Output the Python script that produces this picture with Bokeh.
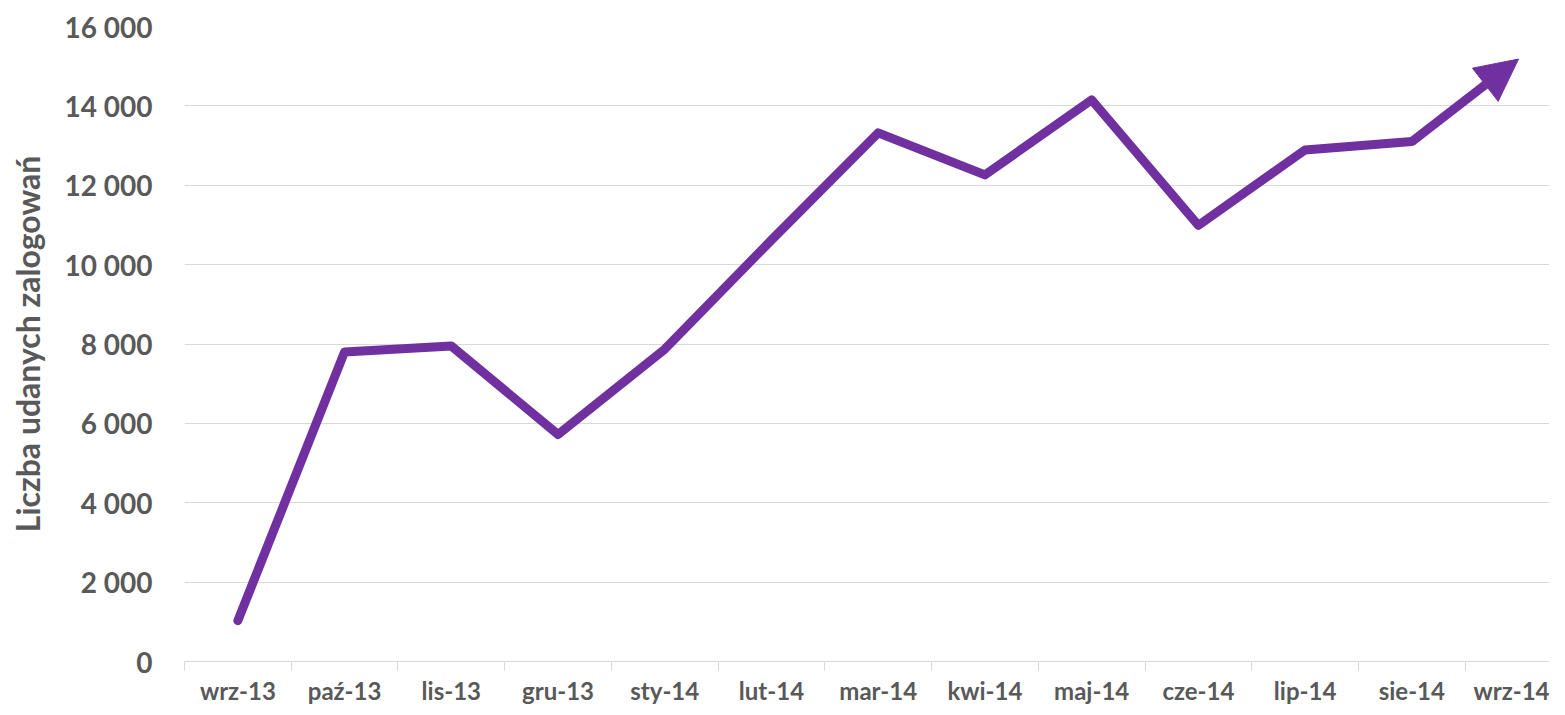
from bokeh.plotting import figure
from bokeh.models import Range1d, FixedTicker, Arrow, NormalHead
from bokeh.embed import file_html
from bokeh.resources import INLINE

months = ["wrz-13", "paź-13", "lis-13", "gru-13", "sty-14", "lut-14", "mar-14",
          "kwi-14", "maj-14", "cze-14", "lip-14", "sie-14", "wrz-14"]
logins = [1030, 7800, 7950, 5720, 7870, 10620, 13320, 12260, 14150, 10990, 12890, 13100, 15180]
y_ticks = [0, 2000, 4000, 6000, 8000, 10000, 12000, 14000, 16000]
y_tick_labels = ["0", "2 000", "4 000", "6 000", "8 000", "10 000", "12 000", "14 000", "16 000"]
y_title = "Liczba udanych zalogowań"

PURPLE = "#7030A0"
GREY = "#595959"
GRID = "#D9D9D9"
FONT = "Lato"

xs = list(range(len(months)))

p = figure(width=1549, height=707, output_backend="svg", toolbar_location=None,
           x_range=Range1d(-0.5, 12.29), y_range=Range1d(0, 16000),
           min_border_left=184, min_border_right=0, min_border_top=26, min_border_bottom=44)
p.outline_line_color = None
p.background_fill_color = "white"
p.border_fill_color = "white"

# line up to the second last point, final segment drawn as arrow
p.line(xs[:-1], logins[:-1], line_color=PURPLE, line_width=9,
       line_join="round", line_cap="round")
p.add_layout(Arrow(end=NormalHead(size=42, fill_color=PURPLE, line_color=PURPLE, line_width=1),
                   x_start=xs[-2], y_start=logins[-2], x_end=xs[-1], y_end=logins[-1],
                   line_color=PURPLE, line_width=9, line_cap="butt"))

# x axis
p.xaxis.ticker = FixedTicker(ticks=xs, minor_ticks=[i - 0.5 for i in range(len(months) + 1)])
p.xaxis.major_label_overrides = {i: m for i, m in zip(xs, months)}
p.xaxis.major_tick_out = 0
p.xaxis.major_tick_in = 0
p.xaxis.minor_tick_out = 9
p.xaxis.minor_tick_in = 0
p.xaxis.minor_tick_line_color = GRID
p.xaxis.axis_line_color = GRID
p.xaxis.axis_line_width = 1
p.xaxis.major_label_standoff = 5
p.xaxis.major_label_text_font = FONT
p.xaxis.major_label_text_font_style = "bold"
p.xaxis.major_label_text_font_size = "24px"
p.xaxis.major_label_text_color = GREY
p.xgrid.grid_line_color = None

# y axis
p.yaxis.ticker = FixedTicker(ticks=y_ticks)
p.yaxis.major_label_overrides = {t: l for t, l in zip(y_ticks, y_tick_labels)}
p.yaxis.axis_line_color = None
p.yaxis.major_tick_line_color = None
p.yaxis.minor_tick_line_color = None
p.yaxis.major_tick_out = 0
p.yaxis.major_tick_in = 0
p.yaxis.major_label_standoff = 32
p.yaxis.major_label_text_font = FONT
p.yaxis.major_label_text_font_style = "bold"
p.yaxis.major_label_text_font_size = "28px"
p.yaxis.major_label_text_color = GREY
p.yaxis.axis_label = y_title
p.yaxis.axis_label_text_font = FONT
p.yaxis.axis_label_text_font_style = "bold"
p.yaxis.axis_label_text_font_size = "32px"
p.yaxis.axis_label_text_color = GREY
p.yaxis.axis_label_standoff = 14
p.ygrid.grid_line_color = GRID
p.ygrid.grid_line_width = 1

open("out.html", "w").write(file_html(p, INLINE))
